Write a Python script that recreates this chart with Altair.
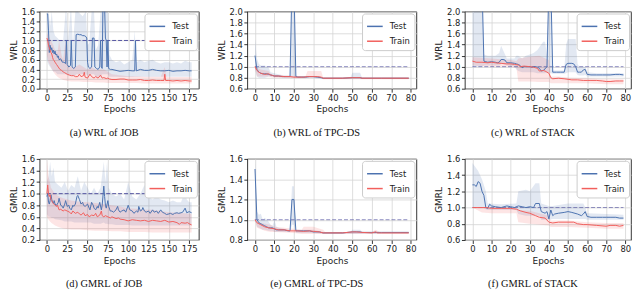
import altair as alt
import pandas as pd

BLUE = "#4c72b0"
RED = "#f25f5c"
BASE = "#46469a"

# ---------------- (a) WRL of JOB ----------------
A_TEST = [(0,1.55),(1,1.55),(2,1.2),(3,0.75),(4,0.9),(5,0.8),(6,0.85),(7,0.75),(8,0.8),(9,0.72),(10,0.78),(11,0.7),(12,0.72),(13,0.65),(14,0.68),(15,0.6),(17,0.62),(19,0.55),(21,0.55),(23,0.52),(24,1.0),(25,0.5),(27,0.45),(29,0.48),(30,1.0),(31,0.45),(33,0.42),(35,0.45),(36,1.12),(38,1.13),(40,1.12),(42,1.12),(44,1.1),(46,1.1),(48,1.08),(49,1.05),(50,0.55),(51,0.45),(53,0.42),(55,0.45),(56,1.05),(58,1.05),(59,0.45),(61,0.42),(63,0.4),(65,0.45),(66,1.0),(67,0.45),(68,0.42),(69,1.8),(70,1.9),(71,1.7),(72,1.05),(73,1.0),(74,0.45),(75,1.0),(76,0.42),(78,0.4),(80,0.4),(85,0.38),(90,0.36),(95,0.37),(100,0.38),(105,0.37),(108,0.37),(109,1.0),(110,0.37),(115,0.4),(120,0.38),(125,0.38),(130,0.4),(135,0.38),(140,0.37),(145,0.37),(150,0.38),(155,0.36),(160,0.37),(165,0.37),(170,0.38),(175,0.37),(178,0.37)]
A_TEST_BAND = [(0,0.6,1.6),(2,0.5,1.6),(4,0.45,1.3),(6,0.4,1.6),(8,0.35,1.2),(10,0.35,1.1),(13,0.3,1.05),(16,0.3,1.0),(20,0.3,1.0),(23,0.3,1.6),(24,0.3,1.6),(26,0.28,0.95),(29,0.28,1.6),(30,0.28,1.6),(32,0.27,0.9),(35,0.27,1.6),(36,0.3,1.6),(38,0.3,1.6),(44,0.3,1.5),(48,0.3,1.6),(50,0.28,0.9),(52,0.27,0.95),(55,0.3,1.6),(56,0.3,1.6),(58,0.3,1.6),(60,0.25,0.8),(63,0.25,0.9),(66,0.25,1.6),(68,0.3,1.6),(70,0.3,1.6),(73,0.3,1.6),(75,0.3,1.6),(77,0.25,0.7),(80,0.25,0.6),(85,0.25,0.55),(90,0.24,0.58),(95,0.24,0.5),(100,0.24,0.55),(105,0.24,0.6),(108,0.25,1.2),(110,0.25,0.55),(115,0.25,0.6),(120,0.25,0.55),(125,0.25,0.58),(130,0.25,0.6),(135,0.25,0.55),(140,0.25,0.52),(145,0.25,0.55),(150,0.25,0.55),(155,0.25,0.52),(160,0.25,0.55),(165,0.25,0.52),(170,0.25,0.58),(175,0.25,0.55),(178,0.25,0.55)]
A_TRAIN = [(0,1.05),(1,1.0),(2,0.9),(3,0.85),(4,0.8),(5,0.75),(6,0.72),(7,0.65),(8,0.6),(9,0.58),(10,0.55),(12,0.5),(14,0.45),(16,0.4),(18,0.38),(20,0.35),(22,0.33),(25,0.3),(28,0.28),(30,0.27),(33,0.27),(35,0.25),(38,0.25),(40,0.3),(42,0.25),(45,0.27),(46,0.34),(47,0.24),(50,0.22),(53,0.3),(55,0.25),(58,0.22),(60,0.25),(63,0.22),(66,0.28),(68,0.22),(70,0.23),(73,0.21),(75,0.22),(77,0.2),(80,0.19),(85,0.19),(90,0.2),(95,0.2),(100,0.18),(105,0.18),(110,0.18),(115,0.19),(120,0.17),(125,0.17),(130,0.18),(135,0.17),(140,0.17),(144,0.17),(145,0.3),(146,0.17),(150,0.17),(155,0.16),(160,0.17),(165,0.16),(170,0.17),(175,0.16),(178,0.16)]
A_TRAIN_BAND = [(0,0.7,1.15),(2,0.55,1.1),(5,0.45,1.0),(8,0.35,0.9),(10,0.3,0.8),(13,0.25,0.75),(15,0.22,1.0),(18,0.2,0.7),(20,0.18,0.6),(23,0.17,1.0),(25,0.16,0.5),(30,0.15,0.45),(35,0.15,0.45),(40,0.15,0.5),(45,0.14,0.45),(50,0.14,0.4),(55,0.14,0.45),(60,0.13,0.4),(65,0.13,0.4),(70,0.13,0.4),(75,0.12,0.35),(80,0.12,0.3),(90,0.12,0.28),(100,0.12,0.26),(110,0.12,0.26),(120,0.11,0.25),(130,0.11,0.25),(140,0.11,0.25),(145,0.11,0.45),(147,0.11,0.25),(150,0.11,0.24),(160,0.11,0.24),(170,0.11,0.24),(178,0.11,0.24)]

# ---------------- (b) WRL of TPC-DS ----------------
B_TEST = [(0,1.2),(1,0.95),(2,0.9),(3,0.88),(4,0.87),(5,0.87),(6,0.87),(7,0.86),(8,0.85),(9,0.84),(10,0.83),(12,0.83),(14,0.82),(16,0.82),(18,0.82),(19,2.5),(20,2.5),(21,0.82),(22,0.81),(24,0.81),(26,0.81),(28,0.82),(30,0.82),(32,0.81),(34,0.8),(35,0.79),(36,0.79),(40,0.79),(45,0.79),(50,0.8),(52,0.8),(54,0.8),(55,0.79),(60,0.79),(65,0.79),(70,0.79),(75,0.79),(79,0.79)]
B_TEST_BAND = [(0,0.95,1.5),(1,0.82,1.15),(2,0.8,1.05),(3,0.8,1.02),(5,0.8,1.02),(7,0.82,0.98),(8,0.82,0.9),(10,0.81,0.88),(12,0.81,0.86),(15,0.8,0.84),(18,0.8,0.84),(19,0.8,2.5),(20,0.8,2.5),(21,0.8,0.84),(22,0.8,0.83),(30,0.8,0.83),(35,0.78,0.8),(49,0.78,0.8),(50,0.78,0.89),(54,0.78,0.89),(55,0.78,0.8),(60,0.78,0.8),(70,0.78,0.8),(79,0.78,0.8)]
B_TRAIN = [(0,1.0),(1,0.93),(2,0.9),(3,0.88),(5,0.86),(7,0.87),(8,0.85),(9,0.84),(10,0.83),(12,0.83),(15,0.82),(18,0.82),(20,0.81),(22,0.81),(25,0.81),(27,0.82),(28,0.82),(30,0.82),(32,0.82),(34,0.81),(35,0.79),(40,0.79),(45,0.79),(50,0.8),(52,0.8),(54,0.8),(55,0.79),(60,0.79),(65,0.79),(70,0.79),(75,0.79),(79,0.79)]
B_TRAIN_BAND = [(0,0.98,1.02),(1,0.82,0.98),(3,0.82,0.95),(7,0.82,0.92),(8,0.81,0.87),(10,0.8,0.85),(20,0.79,0.83),(26,0.79,0.83),(27,0.8,0.92),(34,0.8,0.92),(35,0.77,0.81),(40,0.77,0.81),(79,0.77,0.81)]

# ---------------- (c) WRL of STACK ----------------
C_TEST = [(0,2.5),(5,2.5),(6,1.1),(7,1.09),(8,1.08),(10,1.09),(12,1.08),(13,1.07),(14,1.08),(15,1.13),(16,1.13),(17,1.12),(18,1.07),(20,1.07),(22,1.06),(23,1.05),(24,1.04),(25,1.02),(26,0.98),(27,1.0),(28,1.0),(30,1.0),(31,0.99),(32,1.0),(33,1.0),(34,0.99),(35,0.97),(36,0.92),(37,0.93),(38,0.96),(39,1.0),(40,2.5),(41,2.5),(42,0.9),(44,0.9),(46,0.9),(48,0.9),(49,1.04),(50,1.06),(52,1.06),(53,1.05),(54,1.0),(55,0.9),(56,0.9),(57,0.9),(58,0.94),(59,0.95),(60,0.86),(62,0.85),(65,0.85),(68,0.85),(70,0.85),(72,0.85),(75,0.86),(77,0.86),(79,0.85)]
C_TEST_BAND = [(0,1.0,2.5),(5,1.0,2.5),(6,1.02,1.22),(8,1.02,1.2),(12,1.02,1.2),(14,1.02,1.25),(15,1.05,1.38),(16,1.05,1.3),(18,1.02,1.15),(22,1.0,1.15),(23,0.95,1.2),(24,0.92,1.2),(26,0.9,1.15),(28,0.9,1.2),(30,0.9,1.22),(32,0.9,1.25),(34,0.88,1.3),(36,0.88,1.4),(37,0.88,1.45),(38,0.88,1.45),(39,0.9,1.2),(40,0.9,2.5),(41,0.88,2.5),(42,0.87,0.93),(46,0.87,0.93),(48,0.87,0.93),(49,0.88,1.4),(50,0.9,1.5),(54,0.9,1.5),(55,0.85,1.05),(56,0.84,1.0),(58,0.84,1.0),(59,0.85,1.0),(60,0.82,0.9),(65,0.82,0.88),(70,0.82,0.88),(75,0.82,0.88),(79,0.82,0.88)]
C_TRAIN = [(0,1.1),(2,1.08),(5,1.08),(8,1.07),(10,1.08),(12,1.07),(15,1.06),(18,1.05),(20,1.05),(22,1.04),(24,1.03),(25,1.0),(27,1.01),(30,1.0),(32,0.99),(33,0.98),(34,0.97),(35,0.92),(37,0.93),(38,0.92),(40,0.88),(41,0.8),(42,0.78),(45,0.79),(48,0.78),(50,0.77),(52,0.76),(55,0.76),(58,0.75),(60,0.75),(62,0.75),(65,0.75),(68,0.74),(70,0.73),(72,0.73),(75,0.74),(77,0.74),(79,0.74)]
C_TRAIN_BAND = [(0,1.02,1.17),(10,1.0,1.15),(20,1.0,1.12),(23,0.98,1.1),(24,0.73,1.15),(30,0.73,1.18),(35,0.72,1.2),(40,0.72,1.12),(41,0.7,0.82),(45,0.7,0.82),(50,0.7,0.8),(60,0.7,0.79),(70,0.68,0.77),(79,0.68,0.77)]

# ---------------- (d) GMRL of JOB ----------------
D_TEST = [(0,0.95),(1,1.0),(2,0.85),(3,0.82),(4,0.88),(5,0.98),(6,0.9),(7,0.85),(8,0.83),(9,0.88),(10,0.82),(12,0.8),(14,0.85),(15,0.92),(17,0.8),(19,0.78),(20,0.75),(22,0.82),(23,0.88),(25,0.78),(27,0.8),(28,0.75),(30,0.72),(32,0.8),(33,0.78),(35,0.82),(37,0.95),(38,0.97),(40,0.9),(42,0.82),(44,0.85),(45,0.8),(47,0.78),(50,0.82),(52,0.75),(53,0.72),(55,0.85),(57,0.8),(58,0.75),(60,0.72),(62,0.78),(63,0.75),(65,0.85),(67,0.72),(68,0.8),(70,1.13),(71,0.95),(72,0.8),(73,0.75),(75,0.88),(76,0.78),(78,0.7),(80,0.7),(82,0.68),(85,0.72),(87,0.78),(88,0.72),(90,0.68),(92,0.7),(95,0.72),(97,0.68),(100,0.8),(102,0.72),(105,0.7),(107,0.66),(110,0.7),(112,0.68),(113,0.78),(115,0.7),(117,0.72),(118,0.76),(120,0.7),(122,0.68),(125,0.7),(127,0.66),(130,0.72),(132,0.68),(135,0.7),(137,0.66),(140,0.72),(142,0.68),(145,0.66),(147,0.64),(150,0.65),(152,0.66),(155,0.64),(157,0.66),(160,0.67),(162,0.66),(165,0.67),(167,0.68),(170,0.75),(172,0.67),(175,0.69),(178,0.67)]
D_TEST_BAND = [(0,0.65,1.2),(2,0.6,1.3),(4,0.6,1.55),(6,0.58,1.3),(8,0.58,1.45),(10,0.56,1.2),(14,0.55,1.15),(18,0.54,1.1),(22,0.52,1.2),(26,0.52,1.05),(30,0.52,1.15),(34,0.5,1.1),(38,0.5,1.3),(42,0.5,1.05),(46,0.5,1.2),(50,0.5,1.1),(54,0.5,1.0),(58,0.48,1.1),(62,0.48,1.0),(66,0.48,1.1),(70,0.5,1.55),(72,0.48,1.2),(74,0.48,1.55),(76,0.47,1.1),(80,0.47,1.0),(85,0.46,0.95),(90,0.46,1.0),(95,0.46,0.9),(100,0.46,1.2),(105,0.45,0.95),(110,0.45,0.9),(115,0.45,1.0),(120,0.45,1.15),(125,0.45,0.95),(130,0.45,0.9),(135,0.45,0.95),(140,0.45,0.9),(145,0.45,0.88),(150,0.45,0.85),(155,0.45,0.88),(160,0.45,0.85),(165,0.45,0.85),(170,0.45,1.05),(172,0.45,0.9),(175,0.45,0.85),(178,0.45,0.85)]
D_TRAIN = [(0,1.0),(1,1.15),(2,1.0),(3,0.95),(4,0.98),(5,0.9),(6,0.88),(7,0.85),(8,0.83),(10,0.8),(12,0.78),(13,0.8),(15,0.72),(17,0.73),(20,0.7),(22,0.72),(25,0.7),(28,0.68),(30,0.65),(32,0.7),(35,0.66),(38,0.68),(40,0.65),(42,0.63),(45,0.67),(47,0.62),(50,0.64),(52,0.6),(55,0.63),(58,0.62),(60,0.66),(62,0.6),(65,0.63),(67,0.7),(68,0.62),(70,0.6),(72,0.62),(75,0.6),(78,0.58),(80,0.6),(85,0.57),(88,0.58),(90,0.56),(95,0.55),(100,0.53),(105,0.55),(110,0.54),(115,0.53),(120,0.54),(125,0.52),(130,0.54),(135,0.53),(140,0.52),(145,0.54),(150,0.51),(155,0.52),(160,0.5),(163,0.47),(165,0.5),(170,0.49),(173,0.5),(175,0.48),(178,0.46)]
D_TRAIN_BAND = [(0,0.6,1.6),(2,0.55,1.3),(5,0.5,1.1),(10,0.45,1.0),(15,0.42,0.95),(20,0.4,0.92),(30,0.38,0.88),(40,0.38,0.86),(50,0.37,0.85),(60,0.36,0.84),(70,0.36,0.82),(80,0.35,0.8),(90,0.35,0.78),(100,0.34,0.75),(110,0.34,0.74),(120,0.34,0.72),(130,0.33,0.72),(140,0.33,0.7),(150,0.33,0.68),(160,0.33,0.67),(170,0.33,0.66),(178,0.33,0.65)]

# ---------------- (e) GMRL of TPC-DS ----------------
E_TEST = [(0,1.5),(1,1.0),(2,0.97),(3,0.96),(4,0.95),(5,0.94),(6,0.93),(7,0.92),(8,0.92),(9,0.92),(10,0.91),(11,0.9),(12,0.9),(15,0.9),(17,0.89),(18,0.89),(19,1.2),(20,1.2),(21,0.89),(22,0.89),(25,0.89),(28,0.89),(30,0.88),(33,0.88),(35,0.87),(40,0.87),(45,0.87),(50,0.88),(52,0.88),(54,0.88),(55,0.875),(60,0.875),(65,0.875),(70,0.875),(75,0.875),(79,0.875)]
E_TEST_BAND = [(0,1.0,1.6),(1,0.93,1.08),(2,0.92,1.05),(3,0.91,1.06),(4,0.9,1.0),(5,0.9,1.02),(7,0.89,0.98),(8,0.89,0.95),(9,0.89,0.94),(10,0.88,1.0),(11,0.88,0.93),(12,0.88,0.92),(17,0.88,0.9),(18,0.88,0.9),(19,0.95,1.33),(20,0.95,1.33),(21,0.87,0.9),(22,0.87,0.9),(30,0.87,0.9),(35,0.86,0.88),(49,0.86,0.88),(50,0.86,0.9),(54,0.86,0.9),(55,0.86,0.88),(79,0.86,0.88)]
E_TRAIN = [(0,1.0),(1,0.97),(2,0.96),(3,0.95),(5,0.93),(7,0.92),(10,0.91),(12,0.9),(15,0.9),(18,0.89),(20,0.89),(22,0.89),(25,0.885),(28,0.89),(30,0.885),(33,0.88),(35,0.87),(40,0.87),(45,0.87),(50,0.88),(52,0.88),(55,0.875),(60,0.87),(62,0.88),(63,0.87),(65,0.87),(70,0.87),(75,0.87),(79,0.87)]
E_TRAIN_BAND = [(0,1.0,1.0),(1,0.92,0.98),(5,0.89,0.96),(8,0.88,0.95),(10,0.88,0.93),(20,0.87,0.91),(24,0.86,0.9),(25,0.86,0.93),(30,0.86,0.93),(35,0.86,0.9),(36,0.86,0.88),(40,0.86,0.88),(60,0.86,0.88),(62,0.86,0.9),(64,0.86,0.88),(79,0.86,0.88)]

# ---------------- (f) GMRL of STACK ----------------
F_TEST = [(0,1.28),(1,1.28),(2,1.26),(3,1.32),(4,1.3),(5,1.2),(6,1.15),(7,1.0),(8,0.99),(9,1.04),(10,1.02),(12,1.01),(15,1.0),(18,1.02),(20,1.01),(22,1.0),(24,1.02),(26,1.01),(28,1.0),(30,1.01),(32,1.0),(33,1.05),(35,1.05),(36,0.95),(37,0.94),(38,0.93),(39,0.95),(40,0.86),(41,0.97),(42,0.9),(43,0.92),(45,0.93),(48,0.94),(50,0.95),(52,0.94),(55,0.92),(57,0.9),(58,0.92),(59,0.95),(60,0.89),(62,0.88),(65,0.88),(68,0.88),(70,0.88),(72,0.88),(75,0.88),(77,0.87),(79,0.87)]
F_TEST_BAND = [(0,1.0,1.55),(3,1.0,1.45),(5,1.0,1.35),(7,0.98,1.2),(8,0.97,1.05),(15,0.97,1.04),(23,0.97,1.05),(24,0.92,1.2),(28,0.9,1.22),(30,0.9,1.2),(33,0.9,1.3),(35,0.9,1.3),(36,0.85,1.05),(40,0.85,1.02),(42,0.86,1.02),(50,0.86,1.05),(58,0.86,1.05),(59,0.86,1.0),(60,0.85,0.93),(70,0.85,0.92),(79,0.85,0.91)]
F_TRAIN = [(0,1.0),(5,1.0),(7,1.0),(10,0.99),(15,0.99),(20,0.99),(23,0.98),(25,0.96),(28,0.94),(30,0.93),(33,0.9),(35,0.88),(38,0.87),(40,0.82),(42,0.81),(45,0.82),(50,0.82),(53,0.82),(55,0.8),(58,0.79),(60,0.79),(65,0.78),(70,0.77),(72,0.78),(75,0.78),(77,0.77),(79,0.78)]
F_TRAIN_BAND = [(0,1.0,1.0),(5,0.94,1.0),(10,0.93,0.99),(23,0.93,0.99),(24,0.82,0.97),(30,0.8,0.96),(40,0.78,0.9),(41,0.76,0.84),(50,0.76,0.84),(60,0.75,0.82),(70,0.74,0.81),(79,0.74,0.81)]

X_TICKS_JOB = [0, 25, 50, 75, 100, 125, 150, 175]
X_TICKS_80 = [0, 10, 20, 30, 40, 50, 60, 70, 80]
Y_TICKS_A = [0.0, 0.2, 0.4, 0.6, 0.8, 1.0, 1.2, 1.4, 1.6]
Y_TICKS_BC = [0.6, 0.8, 1.0, 1.2, 1.4, 1.6, 1.8, 2.0]
Y_TICKS_D = [0.2, 0.4, 0.6, 0.8, 1.0, 1.2, 1.4, 1.6]
Y_TICKS_E = [0.8, 1.0, 1.2, 1.4, 1.6]
Y_TICKS_F = [0.6, 0.8, 1.0, 1.2, 1.4, 1.6]


def panel(test, test_band, train, train_band, ydom, yticks, xticks, ytitle,
          caption, w, h, base_op):
    lines = pd.DataFrame([(x, y, "Test") for x, y in test] +
                         [(x, y, "Train") for x, y in train],
                         columns=["epoch", "value", "series"])
    tb = pd.DataFrame(test_band, columns=["epoch", "lo", "hi"])
    rb = pd.DataFrame(train_band, columns=["epoch", "lo", "hi"])
    last = max(x for x, _ in test)
    base = pd.DataFrame({"epoch": [0, last], "value": [1.0, 1.0]})
    pad = 0.05 * last
    xs = alt.Scale(domain=[-pad, last + pad], nice=False, zero=False)
    ys = alt.Scale(domain=ydom, nice=False, zero=False)
    xax = alt.Axis(values=xticks, title="Epochs", format="d")
    yax = alt.Axis(values=yticks, title=ytitle, format=".1f")
    X = alt.X("epoch:Q", scale=xs, axis=xax)

    band_t = alt.Chart(tb).mark_area(color=BLUE, opacity=0.16, clip=True).encode(
        x=X, y=alt.Y("lo:Q", scale=ys, axis=yax), y2="hi:Q")
    band_r = alt.Chart(rb).mark_area(color=RED, opacity=0.16, clip=True).encode(
        x=X, y=alt.Y("lo:Q", scale=ys, axis=yax), y2="hi:Q")
    base_line = alt.Chart(base).mark_line(
        color=BASE, strokeDash=[4, 2], strokeWidth=1, opacity=base_op, clip=True
    ).encode(x=X, y=alt.Y("value:Q", scale=ys, axis=yax))
    line = alt.Chart(lines).mark_line(strokeWidth=1, clip=True).encode(
        x=X,
        y=alt.Y("value:Q", scale=ys, axis=yax),
        color=alt.Color(
            "series:N",
            scale=alt.Scale(domain=["Test", "Train"], range=[BLUE, RED]),
            legend=alt.Legend(
                title=None, orient="top-right", offset=2, symbolType="stroke",
                symbolSize=250, symbolStrokeWidth=1.5, labelFontSize=8.5,
                labelFont="DejaVu Sans", labelColor="#222", padding=4,
                rowPadding=1, labelOffset=6, strokeColor="#cccccc",
                cornerRadius=3, fillColor="white"),
        ),
    )
    return alt.layer(band_t, band_r, base_line, line).properties(
        width=w, height=h,
        title=alt.TitleParams(caption, orient="bottom", anchor="middle",
                              frame="bounds", offset=14,
                              font="Liberation Serif", fontSize=10.5,
                              fontWeight="normal", color="#111"),
    )


H1, H2 = 78, 82
pa = panel(A_TEST, A_TEST_BAND, A_TRAIN, A_TRAIN_BAND, [0.0, 1.6], Y_TICKS_A,
           X_TICKS_JOB, "WRL", "(a)  WRL of JOB", 161, H1, 0.9)
pb = panel(B_TEST, B_TEST_BAND, B_TRAIN, B_TRAIN_BAND, [0.6, 2.0], Y_TICKS_BC,
           X_TICKS_80, "WRL", "(b)  WRL of TPC-DS", 171, H1, 0.6)
pc = panel(C_TEST, C_TEST_BAND, C_TRAIN, C_TRAIN_BAND, [0.6, 2.0], Y_TICKS_BC,
           X_TICKS_80, "WRL", "(c)  WRL of STACK", 168, H1, 0.6)
pd_ = panel(D_TEST, D_TEST_BAND, D_TRAIN, D_TRAIN_BAND, [0.2, 1.6], Y_TICKS_D,
            X_TICKS_JOB, "GMRL", "(d)  GMRL of JOB", 161, H2, 0.9)
pe = panel(E_TEST, E_TEST_BAND, E_TRAIN, E_TRAIN_BAND, [0.8, 1.6], Y_TICKS_E,
           X_TICKS_80, "GMRL", "(e)  GMRL of TPC-DS", 171, H2, 0.6)
pf = panel(F_TEST, F_TEST_BAND, F_TRAIN, F_TRAIN_BAND, [0.6, 1.6], Y_TICKS_F,
           X_TICKS_80, "GMRL", "(f)  GMRL of STACK", 168, H2, 0.6)

row1 = alt.hconcat(pa, pb, pc, spacing=17).resolve_scale(color="independent").resolve_legend(color="independent")
row2 = alt.hconcat(pd_, pe, pf, spacing=17).resolve_scale(color="independent").resolve_legend(color="independent")

chart = (
    alt.vconcat(row1, row2, spacing=15)
    .resolve_scale(color="independent")
    .resolve_legend(color="independent")
    .properties(padding={"left": 1, "top": -3, "right": 0, "bottom": 0},
                background="white")
    .configure_view(stroke="black", strokeWidth=0.8)
    .configure_title(fontWeight="normal")
    .configure_axis(
        grid=True, gridColor="#d4d4d4", gridWidth=0.8, domain=False,
        tickColor="black", tickSize=3.5, tickWidth=0.8,
        labelFont="DejaVu Sans", labelFontSize=8.5, labelColor="#222",
        labelPadding=1.5,
        titleFont="DejaVu Sans", titleFontSize=9, titleFontWeight="normal",
        titleColor="#222", titlePadding=3,
    )
)

chart.save("out.html", embed_options={"renderer": "svg", "actions": False})
